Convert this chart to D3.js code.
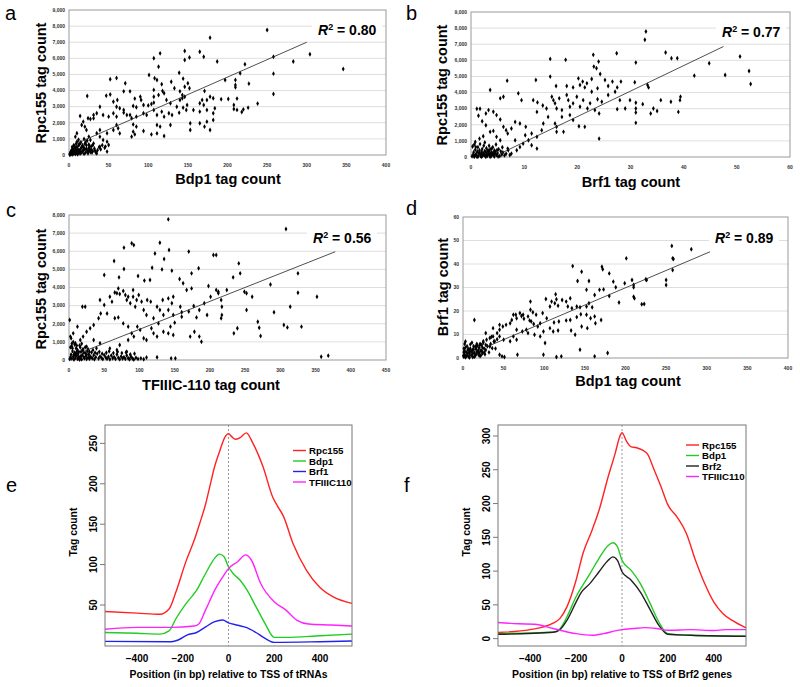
<!DOCTYPE html>
<html>
<head>
<meta charset="utf-8">
<script src="https://cdn.jsdelivr.net/npm/d3@7"></script>
<style>
body { margin: 0; background: #fff; }
svg { display: block; font-family: "Liberation Sans", Arial, Helvetica, sans-serif; }
</style>
</head>
<body>
<script>
// ---- scatter data (tag counts) ----
var aPoints = [[250,7760],[178,7280],[165,6410],[170,6100],[146,6450],[115,6310],[304,6250],[258,6100],[107,6000],[152,6050],[187,5800],[283,5800],[146,5900],[113,5480],[346,5340],[222,5630],[216,5070],[258,5050],[139,5110],[101,4970],[52,4700],[60,4780],[108,4760],[111,4660],[144,4740],[146,4240],[197,4660],[210,4650],[210,4350],[210,4200],[23,3660],[47,3680],[71,4450],[227,4430],[117,4390],[150,4450],[129,4550],[107,4040],[118,3970],[120,3830],[133,4140],[143,3720],[140,3950],[146,3620],[152,4140],[171,3970],[52,3750],[69,3950],[77,3950],[83,3500],[90,3620],[91,3410],[56,3310],[61,3410],[107,3620],[113,3720],[123,3410],[128,3210],[140,3410],[143,3520],[165,3210],[168,3410],[174,3410],[170,3100],[178,3620],[182,3520],[192,3460],[201,3480],[212,3500],[258,3790],[238,3190],[208,3100],[226,2940],[60,3000],[64,2900],[69,2790],[81,3040],[85,2960],[94,3100],[100,3080],[104,3170],[107,3250],[39,3000],[35,2590],[31,2480],[14,2420],[31,2280],[24,2280],[27,2230],[43,2480],[50,2380],[56,2590],[60,2380],[69,2630],[73,2480],[77,2480],[79,2280],[85,2380],[94,2590],[98,2480],[107,2790],[111,2480],[117,2690],[120,2380],[126,2590],[130,2480],[136,3000],[139,2630],[144,2940],[148,2790],[149,3100],[157,2790],[165,2690],[174,2790],[182,2590],[184,2900],[208,2850],[212,2800],[220,2830],[218,2670],[182,2170],[174,2070],[111,1860],[115,1760],[94,1490],[104,1280],[165,1970],[171,1760],[178,1550],[153,1550],[153,1970],[120,1180],[111,1340],[128,1860],[81,1900],[85,1760],[81,1450],[83,1280],[79,1140],[60,1860],[62,1660],[56,1550],[64,1340],[48,1350],[39,1550],[35,1350],[39,1140],[43,930],[20,1760],[22,1550],[16,1860],[18,2070],[10,1350],[8,1140],[25,1140],[27,930],[31,720],[14,720],[10,830],[48,210],[46,520],[48,830],[50,620],[39,520],
  [1,20],[2,50],[3,100],[4,30],[5,150],[6,80],[7,200],[8,60],[9,120],[10,250],[11,40],[12,180],[13,300],[14,90],[15,400],[16,150],[17,220],[18,500],[19,70],[20,350],[21,160],[22,600],[23,260],[24,110],[25,420],[26,300],[27,190],[28,550],[30,250],[32,400],[34,150],[36,300],[38,480],[3,300],[5,400],[7,550],[9,700],[12,600],[15,800],[18,300],[2,180],[4,250],[6,350],[8,450],[10,500],[13,650],[16,480],[20,700],[22,400],[25,650],[28,350],[17,600],[11,380],[19,420],[24,200],[1,80],[2,120],[3,200],[26,500],[29,150],[33,250],[35,100],[40,350],[42,600],[45,450],[30,600],[12,950],[6,600],[4,500],[9,300],[14,250],[21,800],[23,900],[19,1000]];

var bPoints = [[32.9,7794],[32.7,7275],[23,6340],[24,5920],[14.9,6090],[17.8,6030],[27.4,6440],[36.6,6485],[37.7,6130],[38.8,6130],[50.6,6240],[44.8,5820],[31,5860],[52.3,5340],[47.8,5090],[23.1,5610],[23.6,5510],[24.3,5150],[42,5050],[52.6,4530],[14.9,4990],[6.8,4740],[12.2,4780],[20.2,4880],[21,4680],[21.8,4570],[22.7,4840],[25.2,4780],[26.6,4680],[28.2,4680],[30.8,4640],[33.2,4470],[33.4,4320],[3.6,4160],[16,4410],[18,4410],[19.2,4320],[20.5,4470],[21.4,4320],[23.8,4260],[25.8,4410],[27.5,4320],[25.8,3850],[27.1,4050],[22.7,4050],[23.8,3580],[24.6,3430],[39.3,3530],[39.4,3740],[37.6,3430],[35.7,3530],[34.3,3010],[32.3,3280],[31,3010],[31,2760],[29,3010],[27.5,2970],[28,3530],[29.9,3530],[39,2800],[33.8,2700],[35,2850],[31,3370],[31,2120],[24.1,1140],
  [5.5,3640],[6.1,3740],[8.9,3950],[9.5,3530],[11.7,3530],[12.5,3390],[12.4,2800],[13.5,3200],[14.2,3010],[15.2,3740],[15.5,3530],[15.8,3330],[16.1,3010],[16.6,3640],[17.1,2910],[18,3850],[18.3,3530],[18.6,3120],[19.2,3330],[19.9,3740],[20.5,3120],[21.1,3530],[21.9,3010],[22.4,3330],[23.3,2910],[24.1,2700],[18.6,2600],[19.2,2290],[20.3,1910],[17.1,2490],[15.8,2080],[16.1,1560],[17.4,1560],[21.4,1870],[16.1,1870],[14.5,2490],[13.6,2080],[13.3,1660],[12.4,1250],[11.4,1460],[10.3,1870],[10.2,1350],[9.2,2080],[8.3,2180],[7.6,1770],[6.9,1460],[6.6,1660],[6.1,1870],[5.5,2330],[4.8,2600],[4.2,2810],[3.3,2910],[2.8,2700],[1.1,2990],[1.7,2990],[1.4,2560],[2.1,2220],[2.8,1970],[3.6,1560],[4.2,1620],[4.8,1250],[5.5,1040],[2.3,1290],[1.6,1140],[0.8,935],[0.6,770],[0.9,620],[8.6,416],[9.2,620],[7.6,210],[9.8,830],[10.8,1040],[11.4,730],[12.4,520],[6.9,520],[8.3,1040],
  [0.2,50],[0.4,150],[0.5,300],[0.7,80],[0.8,450],[1,200],[1.1,30],[1.2,350],[1.3,600],[1.4,100],[1.5,250],[1.6,420],[1.8,60],[1.9,180],[2,320],[2.1,500],[2.2,90],[2.3,240],[2.4,700],[2.5,130],[2.6,380],[2.7,40],[2.8,280],[2.9,550],[3,160],[3.1,70],[3.2,420],[3.3,220],[3.4,340],[3.5,110],[3.6,480],[3.7,200],[3.8,60],[3.9,300],[4,150],[4.1,600],[4.2,250],[4.3,90],[4.4,400],[4.5,180],[4.6,320],[4.8,120],[5,240],[5.2,480],[5.4,60],[5.6,350],[5.8,150],[6,280],[6.3,100],[6.6,200],[7,420],[7.3,120],[3.4,700],[1.7,800],[0.3,650],[2.6,900],[4.7,780],[5.9,600],[0.6,20],[1.3,10],[2,15],[2.8,20],[3.6,10],[4.4,25],[5.1,30],[0.9,120],[1.6,260],[2.4,160],[3.1,380],[3.9,520],[4.9,430]];

var cPoints = [[141,7760],[308,7230],[89,6440],[92,6340],[78,6200],[129,6470],[142,6070],[170,5980],[122,5880],[205,5790],[209,5790],[135,5570],[64,5460],[241,5330],[184,5060],[118,5090],[78,5020],[132,5000],[146,4930],[243,4780],[325,4780],[174,4780],[50,4690],[71,4560],[98,4630],[107,4380],[115,4410],[157,4470],[233,4560],[162,4230],[167,3860],[174,3950],[198,4080],[209,3860],[212,3770],[224,3860],[212,3680],[249,3770],[252,3680],[260,3490],[325,3710],[352,3490],[286,4170],[216,3310],[217,2940],[201,3490],[192,3130],[185,2760],[177,2980],[170,2670],[158,2940],[160,2630],[148,2480],[133,3310],[116,3220],[125,2940],[129,2760],[134,2480],[141,2760],[146,3130],[141,3400],[148,3490],[91,3490],[96,3310],[84,3490],[80,3590],[72,3640],[68,3680],[82,3310],[87,3130],[94,2940],[106,2760],[110,2480],[111,3310],[103,3220],[99,3590],[91,3860],[77,3810],[70,3950],[65,3720],[58,3490],[61,3220],[50,3030],[45,2570],[42,2300],[35,1930],[30,1750],[25,1560],[20,1290],[16,1100],[9,920],[4,740],[1,2210],[2,1290],[6,1470],[12,1840],[19,2940],[23,2940],[44,3310],[54,2570],[65,2300],[70,2350],[77,2020],[84,1840],[89,1470],[92,1290],[97,1840],[101,1660],[106,1200],[110,1100],[120,1470],[125,1290],[134,1560],[141,1470],[148,1380],[185,1290],[188,1010],[172,1290],[178,1560],[117,1750],[120,2300],[127,2020],[144,1840],[150,2060],[160,2390],[181,2350],[196,2480],[217,2480],[216,2300],[234,1470],[239,1750],[268,2110],[270,1780],[272,1320],[291,2630],[305,1930],[310,1800],[330,1840],[314,2940],[252,2760],[358,180],[368,240],[125,150],[145,90],[151,90],
  [25,740],[35,1100],[44,920],[58,640],[68,550],[72,830],[82,460],[84,1100],[11,460],
  [1,50],[2,150],[3,300],[4,80],[5,500],[6,200],[7,30],[8,400],[9,120],[10,650],[11,250],[12,60],[13,350],[14,180],[15,800],[16,100],[17,450],[18,40],[19,280],[20,600],[21,150],[22,90],[23,380],[24,220],[25,50],[26,500],[27,130],[28,300],[29,70],[30,200],[32,420],[33,100],[35,260],[36,40],[38,150],[40,350],[42,80],[44,200],[46,120],[48,50],[50,280],[52,150],[54,70],[56,180],[58,40],[60,250],[62,100],[64,160],[66,60],[68,300],[70,120],[72,40],[74,200],[76,80],[78,150],[80,60],[82,250],[84,100],[86,40],[88,180],[90,80],[92,30],[95,120],[98,60],[102,90],[106,40],[110,140],[2,700],[4,900],[6,1000],[3,1200],[8,850],[10,350],[12,550],[14,450],[16,700],[18,900],[5,650],[7,300],[9,250],[11,800],[13,100],[15,30],[17,220],[19,550],[21,420],[23,700],[25,300],[27,600],[29,450],[31,150],[34,550],[37,400],[39,650],[43,450],[47,350],[53,400],[57,480],[63,380],[69,450],[75,380],[81,420],[87,300],[93,350]];

var dPoints = [[257,47.7],[281,46.3],[258,42.4],[201,42.4],[259,42.1],[258,37.4],[135,39.1],[171,38.8],[172,37.8],[146,36.7],[180,36],[208,33.2],[225,33.5],[226,33.2],[250,33.2],[250,31.1],[210,31.1],[210,30.1],[141,32.8],[155,32.8],[185,32.5],[199,31.8],[188,30.1],[168,29],[173,29.2],[152,29],[162,26.8],[180,26.4],[210,26.1],[211,25.4],[192,23.6],[220,22.9],[223,23],[114,27.1],[115,25],[122,24.7],[132,25.4],[127,24],[102,25.1],[109,24],[113,23.3],[107,21.9],[117,22.2],[129,21.9],[134,21.2],[140,21.9],[144,21.6],[152,21.9],[155,23.3],[159,21.6],[145,18.6],[152,18.4],[157,16.9],[162,17.7],[140,17.4],[132,16.2],[127,16],[118,15.5],[112,15.1],[103,16.9],[98,19.1],[90,18.4],[86,19.5],[80,17.7],[74,18.4],[70,19.1],[66,16.9],[72,17.9],[75,16.7],[82,16],[84,15.5],[87,14.5],[92,13.4],[95,14.8],[99,11.3],[107,12.7],[111,11.3],[117,11.7],[138,9.9],[146,13.4],[153,12.7],[163,14.8],[170,16.2],[133,11.7],[83,24],[83,20.5],[65,18.4],[62,18.4],[60,16.2],[53,14.1],[49,13.4],[45,12],[42,10.6],[37,9.2],[33,8.5],[29,7.8],[25,7.1],[21,5.6],[16,4.9],[12,3.5],[8,2.8],[14,16.2],[28,10.6],[37,12.7],[45,14.1],[58,14.8],[66,12],[73,11.3],[80,10.6],[88,9.9],[95,9.2],[101,6.4],[78,12],[62,9.2],[45,9.2],[50,7.8],[58,7.1],[66,7.8],[39,7.1],[33,4.9],[144,3.5],[45,1.4],[48,0.7],[51,0.4],[67,1.4],[99,1.4],[115,0.4],[121,0.7],[162,0.7],[178,2.1],
  [1,0.5],[2,1.5],[3,0.3],[4,2.5],[5,1],[6,3.5],[7,0.6],[8,2],[9,4],[10,1.2],[11,3],[12,0.4],[13,5],[14,2.2],[15,1],[16,3.8],[17,6],[18,2.6],[19,1.4],[20,4.5],[21,0.8],[22,3.2],[23,5.5],[24,2],[25,6.5],[26,4],[27,1.6],[28,3.4],[30,5],[32,2.4],[34,6],[36,4.2],[2,3],[3,4.5],[4,0.8],[5,5],[6,2],[7,3.8],[8,0.2],[9,5.8],[10,2.8],[11,6.5],[12,1.8],[13,3.6],[14,0.5],[15,4.8],[16,1.6],[17,2.8],[18,5.2],[19,3.4],[20,2.2],[21,6],[22,1.2],[23,3],[24,4.4],[26,2.4],[28,5.6],[1,2.5],[1,4],[2,6],[3,7],[0.5,1],[40,4],[38,7],[42,8],[35,9]];

// trend lines (end points) and R squared
var aTrend = [[10,720],[300,7000]];
var bTrend = [[5.5,210],[47.5,6860]];
var cTrend = [[20,460],[378,5975]];
var dTrend = [[29.5,4.8],[304,45.2]];
var rSquared = ["0.80", "0.77", "0.56", "0.89"];

// ---- profile data (tag count vs position, bp) ----
var eRpc155 = [[-540,42],[-400,40],[-300,38.5],[-260,45],[-230,66],[-186,104],[-150,130],[-127,150],[-100,175],[-83,195],[-60,222],[-39,240],[-15,258],[0,262],[15,258],[30,255],[50,257],[78,263],[107,250],[151,221],[194,183],[215,172],[240,160],[282,126],[341,93],[399,72],[458,60],[540,52]];
var eBdp1 = [[-540,16],[-400,15],[-300,14],[-260,18],[-230,33],[-185,52],[-140,68],[-100,89],[-60,108],[-40,113],[-20,110],[0,97],[20,89],[50,81],[80,69],[120,48],[160,27],[200,10],[250,10],[400,12],[540,14]];
var eBrf1 = [[-540,5],[-250,4.6],[-220,6.7],[-180,13],[-140,16],[-100,23],[-60,29.4],[-25,31.4],[0,28],[40,25],[80,22],[120,16],[160,8.7],[200,3.8],[400,4.6],[540,5.4]];
var eTFIIIC110 = [[-540,20],[-400,22.4],[-250,22.4],[-150,24],[-130,26.5],[-100,44],[-60,68.5],[-20,87],[0,95],[40,103.6],[75,112],[100,105.7],[140,77],[200,54],[250,44],[300,31],[350,26.5],[450,25.3],[540,24]];

var fRpc155 = [[-540,9],[-400,13.3],[-300,23],[-270,30],[-240,47],[-200,86.5],[-170,126],[-130,161],[-100,190],[-60,240],[-30,274],[-10,299],[0,305],[20,292],[40,284],[60,283],[90,279],[110,274],[140,250],[170,225],[200,198],[240,180],[280,156],[320,116],[360,81.5],[400,54],[440,37],[480,27],[540,16]];
var fBdp1 = [[-540,7.4],[-300,9.4],[-270,14.8],[-240,32],[-200,62],[-180,74],[-140,96],[-100,119],[-60,138],[-40,142],[-20,136],[0,116],[40,101],[80,81.5],[120,54],[160,25],[200,7.4],[300,5],[540,3.5]];
var fBrf2 = [[-540,6.4],[-300,9.4],[-270,13.3],[-240,27],[-200,54],[-180,67],[-140,81.5],[-100,99],[-60,116],[-40,121],[-20,116],[0,99],[40,86.5],[80,69],[120,44.5],[160,20],[200,6.4],[300,5],[540,3.5]];
var fTFIIIC110 = [[-540,24],[-450,22],[-380,21.3],[-300,15],[-200,7.4],[-130,5],[-80,7.4],[-30,11.4],[0,13.3],[50,15],[100,16.3],[150,15],[200,12.4],[300,13.3],[400,12],[450,13.3],[540,13.3]];

var eNames = ["Rpc155", "Bdp1", "Brf1", "TFIIIC110"];
var fNames = ["Rpc155", "Bdp1", "Brf2", "TFIIIC110"];
var eColors = ["#f22", "#2c2", "#22e", "#f2f"];
var fColors = ["#f22", "#2c2", "#222", "#f2f"];
var profileXTicks = [-400, -200, 0, 200, 400];
var eYTicks = [50, 100, 150, 200, 250];
var fYTicks = [0, 50, 100, 150, 200, 250, 300];

var width = 800, height = 687;
var svg = d3.select("body").append("svg").attr("width", width).attr("height", height);

function drawScatter(p) {
  var x = d3.scaleLinear().domain([0, p.xMax]).range([p.left, p.right]);
  var y = d3.scaleLinear().domain([0, p.yMax]).range([p.bottom, p.top]);
  var g = svg.append("g");
  var xTicks = d3.range(0, p.xMax + 1, p.xStep);
  var yTicks = d3.range(0, p.yMax + 1, p.yStep);

  g.selectAll(".grid").data(yTicks.filter(function(v) { return v > 0 && v < p.yMax; }))
    .enter().append("line")
    .attr("x1", p.left).attr("x2", p.right)
    .attr("y1", y).attr("y2", y)
    .attr("stroke", "#d6d6d6").attr("stroke-width", 0.8);

  g.append("rect").attr("x", p.left).attr("y", p.top)
    .attr("width", p.right - p.left).attr("height", p.bottom - p.top)
    .attr("fill", "none").attr("stroke", "#999").attr("stroke-width", 1);

  g.selectAll(".yt").data(yTicks).enter().append("text")
    .attr("x", p.left - 4).attr("y", function(d) { return y(d) + 1.8; })
    .attr("text-anchor", "end").attr("font-size", 5).attr("font-weight", "bold").attr("fill", "#333")
    .text(p.yFormat);
  g.selectAll(".xt").data(xTicks).enter().append("text")
    .attr("x", x).attr("y", p.bottom + 12)
    .attr("text-anchor", "middle").attr("font-size", 5).attr("font-weight", "bold").attr("fill", "#333")
    .text(function(d) { return d; });

  g.selectAll(".pt").data(p.points).enter().append("path")
    .attr("d", d3.symbol().type(d3.symbolDiamond).size(7))
    .attr("transform", function(d) { return "translate(" + x(d[0]) + "," + y(d[1]) + ")"; })
    .attr("fill", "#000");

  g.append("line")
    .attr("x1", x(p.trend[0][0])).attr("y1", y(p.trend[0][1]))
    .attr("x2", x(p.trend[1][0])).attr("y2", y(p.trend[1][1]))
    .attr("stroke", "#222").attr("stroke-width", 0.8);

  g.append("rect").attr("x", p.r2x - 6).attr("y", p.r2y - 14)
    .attr("width", 70).attr("height", 18).attr("fill", "#fff");
  var t = g.append("text").attr("x", p.r2x).attr("y", p.r2y)
    .attr("font-size", 14).attr("font-weight", "bold");
  t.append("tspan").attr("font-style", "italic").text("R");
  t.append("tspan").attr("font-size", 9).attr("dy", -5).text("2");
  t.append("tspan").attr("dy", 5).text(" = " + p.r2);

  g.append("text").attr("x", p.xTitleX).attr("y", p.xTitleY)
    .attr("text-anchor", "middle").attr("font-size", 14.5).attr("font-weight", "bold")
    .text(p.xTitle);
  g.append("text").attr("transform", "translate(" + p.yTitleX + "," + p.yTitleY + ") rotate(-90)")
    .attr("text-anchor", "middle").attr("font-size", 14.5).attr("font-weight", "bold")
    .text(p.yTitle);

  g.append("text").attr("x", p.letterX).attr("y", p.letterY)
    .attr("font-size", 20).text(p.letter);
}

function drawProfile(p) {
  var x = d3.scaleLinear().domain([-540, 540]).range([p.left, p.right]);
  var y = d3.scaleLinear().domain(p.yDomain).range([p.bottom, p.top]);
  var g = svg.append("g");

  g.append("line")
    .attr("x1", x(0)).attr("x2", x(0)).attr("y1", p.top).attr("y2", p.bottom)
    .attr("stroke", "#999").attr("stroke-width", 1).attr("stroke-dasharray", "2,2");

  var line = d3.line()
    .x(function(d) { return x(d[0]); })
    .y(function(d) { return y(d[1]); })
    .curve(d3.curveMonotoneX);

  g.selectAll(".series").data(p.series).enter().append("path")
    .attr("d", function(d) { return line(d); })
    .attr("fill", "none")
    .attr("stroke", function(d, i) { return p.colors[i]; })
    .attr("stroke-width", 1.4);

  g.append("rect").attr("x", p.left).attr("y", p.top)
    .attr("width", p.right - p.left).attr("height", p.bottom - p.top)
    .attr("fill", "none").attr("stroke", "#777").attr("stroke-width", 1);

  g.selectAll(".ytick").data(p.yTicks).enter().append("line")
    .attr("x1", p.left - 5).attr("x2", p.left)
    .attr("y1", y).attr("y2", y)
    .attr("stroke", "#777");
  g.selectAll(".ylab").data(p.yTicks).enter().append("text")
    .attr("transform", function(d) { return "translate(" + (p.left - 8) + "," + y(d) + ") rotate(-90)"; })
    .attr("text-anchor", "middle").attr("font-size", 10).attr("font-weight", "bold")
    .text(function(d) { return d; });
  g.selectAll(".xlab").data(profileXTicks).enter().append("text")
    .attr("x", x).attr("y", p.bottom + 16)
    .attr("text-anchor", "middle").attr("font-size", 10).attr("font-weight", "bold")
    .text(function(d) { return d < 0 ? "\u2212" + (-d) : d; });

  g.append("text").attr("x", (p.left + p.right) / 2).attr("y", 678)
    .attr("text-anchor", "middle").attr("font-size", 10.4).attr("font-weight", "bold")
    .text(p.xTitle);
  g.append("text").attr("transform", "translate(" + (p.left - 28) + ",532) rotate(-90)")
    .attr("text-anchor", "middle").attr("font-size", 10.4).attr("font-weight", "bold")
    .text("Tag count");

  var leg = g.selectAll(".leg").data(p.names).enter().append("g")
    .attr("transform", function(d, i) { return "translate(" + p.legX + "," + (p.legY + i * 10.5) + ")"; });
  leg.append("line").attr("x1", 0).attr("x2", 13).attr("y1", 0).attr("y2", 0)
    .attr("stroke", function(d, i) { return p.colors[i]; }).attr("stroke-width", 1.4);
  leg.append("text").attr("x", 16).attr("y", 3.5)
    .attr("font-size", 9.7).attr("font-weight", "bold").text(function(d) { return d; });

  g.append("text").attr("x", p.letterX).attr("y", p.letterY)
    .attr("font-size", 20).text(p.letter);
}

var commaFmt = d3.format(",");
function plainFmt(d) { return d; }

drawScatter({ points: aPoints, trend: aTrend, r2: rSquared[0], left: 69, right: 386, top: 10, bottom: 155,
  xMax: 400, xStep: 50, yMax: 9000, yStep: 1000, yFormat: commaFmt, r2x: 318, r2y: 35,
  xTitle: "Bdp1 tag count", xTitleX: 228, xTitleY: 184, yTitle: "Rpc155 tag count", yTitleX: 46, yTitleY: 83,
  letter: "a", letterX: 5, letterY: 20 });
drawScatter({ points: bPoints, trend: bTrend, r2: rSquared[1], left: 471, right: 790, top: 12, bottom: 157,
  xMax: 60, xStep: 10, yMax: 9000, yStep: 1000, yFormat: commaFmt, r2x: 722, r2y: 37,
  xTitle: "Brf1 tag count", xTitleX: 631, xTitleY: 187, yTitle: "Rpc155 tag count", yTitleX: 447, yTitleY: 85,
  letter: "b", letterX: 406, letterY: 20 });
drawScatter({ points: cPoints, trend: cTrend, r2: rSquared[2], left: 69, right: 386, top: 215, bottom: 360,
  xMax: 450, xStep: 50, yMax: 8000, yStep: 1000, yFormat: commaFmt, r2x: 313, r2y: 243,
  xTitle: "TFIIIC-110 tag count", xTitleX: 211, xTitleY: 390, yTitle: "Rpc155 tag count", yTitleX: 46, yTitleY: 289,
  letter: "c", letterX: 6, letterY: 217 });
drawScatter({ points: dPoints, trend: dTrend, r2: rSquared[3], left: 463, right: 788, top: 217, bottom: 358,
  xMax: 400, xStep: 50, yMax: 60, yStep: 10, yFormat: plainFmt, r2x: 715, r2y: 243,
  xTitle: "Bdp1 tag count", xTitleX: 628, xTitleY: 386, yTitle: "Brf1 tag count", yTitleX: 448, yTitleY: 287,
  letter: "d", letterX: 406, letterY: 215 });

drawProfile({ series: [eRpc155, eBdp1, eBrf1, eTFIIIC110], names: eNames, colors: eColors,
  left: 105, right: 352, top: 425, bottom: 646, yDomain: [-0.7, 272.7], yTicks: eYTicks,
  xTitle: "Position (in bp) relative to TSS of tRNAs", legX: 293, legY: 450.5,
  letter: "e", letterX: 6, letterY: 492 });
drawProfile({ series: [fRpc155, fBdp1, fBrf2, fTFIIIC110], names: fNames, colors: fColors,
  left: 498, right: 746, top: 425, bottom: 646, yDomain: [-10.9, 316.3], yTicks: fYTicks,
  xTitle: "Position (in bp) relative to TSS of Brf2 genes", legX: 686, legY: 445,
  letter: "f", letterX: 404, letterY: 492 });
</script>
</body>
</html>
